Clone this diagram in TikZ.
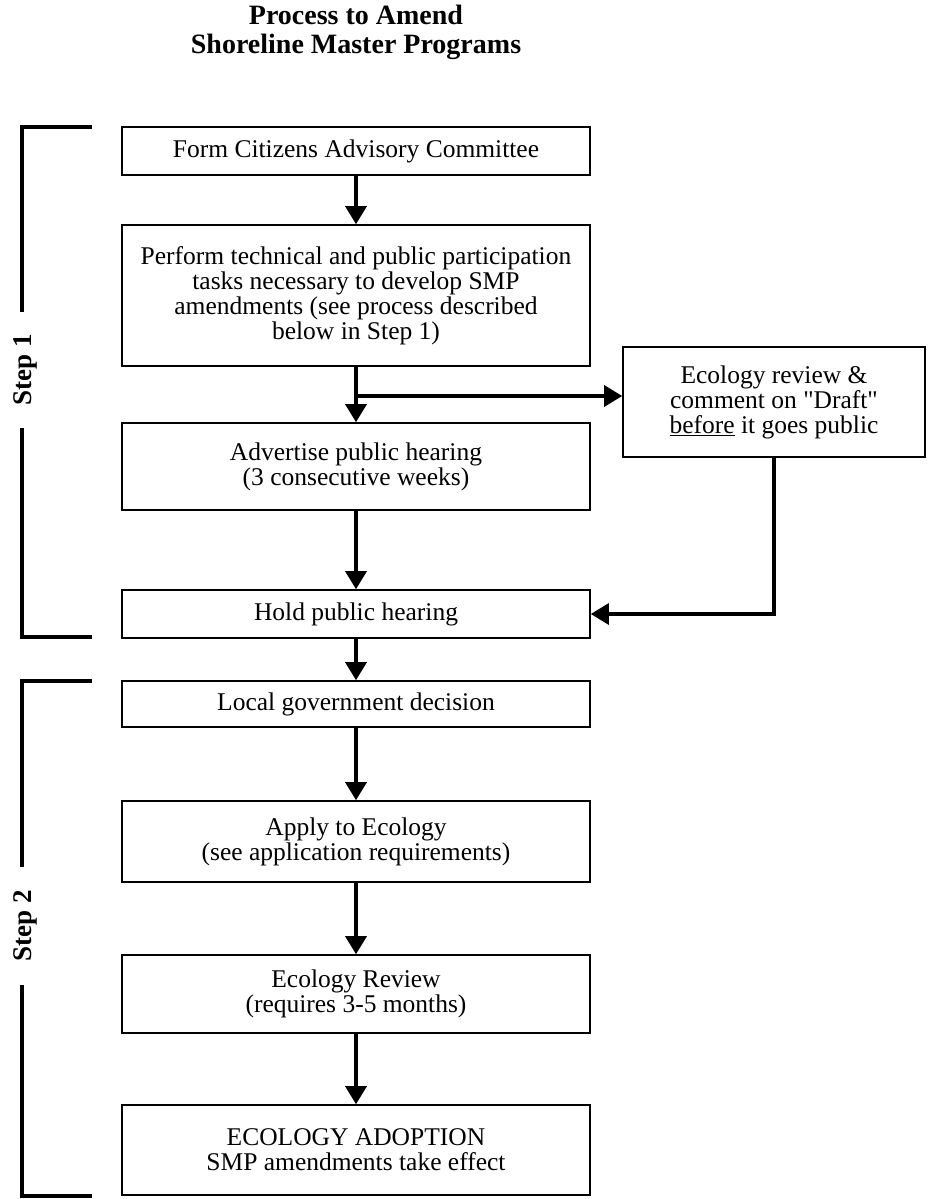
\documentclass[tikz,border=0pt]{standalone}
\usepackage{fontspec}
\setmainfont{Liberation Serif}
\usetikzlibrary{arrows.meta}

\begin{document}
\begin{tikzpicture}[x=1pt,y=-1pt,
  procbox/.style={draw, line width=1.6pt, minimum width=468pt, align=center, inner sep=0pt, font=\fontsize{25.5}{25}\selectfont},
  flow/.style={line width=3.2pt, -{Triangle[width=21pt,length=18pt]}},
  bracket/.style={line width=3.4pt},
  steplabel/.style={rotate=90, font=\bfseries\fontsize{27}{28}\selectfont}]
 \useasboundingbox (0,0) rectangle (927,1199);
 % title
 \node[anchor=north, inner sep=0pt, align=center, font=\bfseries\fontsize{28}{28.5}\selectfont] (title) at (356,5) {Process to Amend\\Shoreline Master Programs};
 % step 1 boxes
 \node[procbox, minimum height=48pt] (form) at (356,151) {Form Citizens Advisory Committee};
 \node[procbox, minimum height=141pt] (perform) at (356,295.5) {Perform technical and public participation\\tasks necessary to develop SMP\\amendments (see process described\\below in Step 1)};
 \node[procbox, minimum height=87pt] (advert) at (356,466.5) {Advertise public hearing\\(3 consecutive weeks)};
 \node[procbox, minimum height=48pt] (hold) at (356,614) {Hold public hearing};
 \node[procbox, minimum width=302pt, minimum height=110pt] (eco) at (774,402) {Ecology review \&\\comment on \textquotedbl Draft\textquotedbl\\\underline{before} it goes public};
 % step 2 boxes
 \node[procbox, minimum height=46pt] (decide) at (356,704) {Local government decision};
 \node[procbox, minimum height=81pt] (apply) at (356,841.5) {Apply to Ecology\\(see application requirements)};
 \node[procbox, minimum height=78pt] (review) at (356,994) {Ecology Review\\(requires 3-5 months)};
 \node[procbox, minimum height=90pt] (adopt) at (356,1150) {ECOLOGY ADOPTION\\SMP amendments take effect};
 % connectors
 \coordinate (branch) at (356,396);
 \draw[flow] (form) -- (perform);
 \draw[flow] (perform) -- (advert);
 \draw[flow] (branch) -- (branch -| eco.west);
 \draw[flow] (advert) -- (hold);
 \draw[flow] (eco.south) -- (eco.south |- hold.east) -- (hold.east);
 \draw[flow] (hold) -- (decide);
 \draw[flow] (decide) -- (apply);
 \draw[flow] (apply) -- (review);
 \draw[flow] (review) -- (adopt);
 % brackets
 \draw[bracket] (92,127) -- (22,127) -- (22,312);
 \draw[bracket] (22,428) -- (22,637) -- (92,637);
 \node[steplabel] (stepone) at (25,370) {Step 1};
 \draw[bracket] (92,681) -- (22,681) -- (22,867);
 \draw[bracket] (22,985) -- (22,1196) -- (92,1196);
 \node[steplabel] (steptwo) at (25,926) {Step 2};
\end{tikzpicture}
\end{document}
